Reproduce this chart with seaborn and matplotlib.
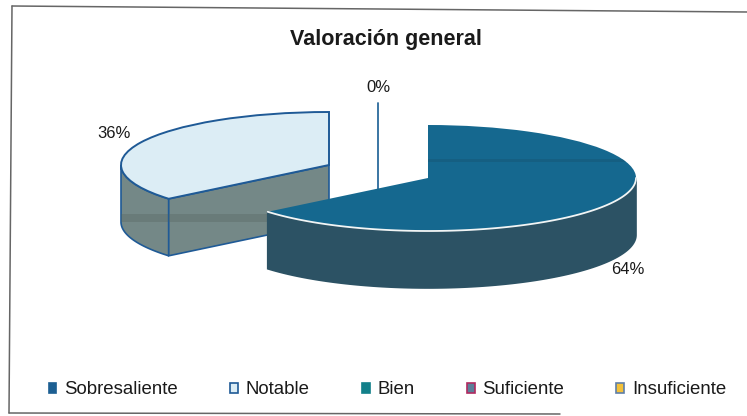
import numpy as np
import matplotlib
matplotlib.use("Agg")
import matplotlib.pyplot as plt
from matplotlib.patches import Patch, Polygon, Rectangle
from matplotlib.lines import Line2D
import seaborn as sns

categories = ["Sobresaliente", "Notable", "Bien", "Suficiente", "Insuficiente"]
values = [64, 36, 0, 0, 0]
pct_labels = ["64%", "36%", "0%"]

top_colors = ["#15688f", "#dcedf5", "#12808a", "#5c7f99", "#f3c13a"]
side_colors = ["#2c5264", "#748887", "#0d5a60", "#40586b", "#a8862a"]
edge_colors = ["#2c5264", "#1f5a96", "#1f5a96", "#b02a60", "#5f7fa8"]
legend_faces = ["#1c5f92", "#dcedf5", "#12808a", "#5c7f99", "#f3c13a"]
legend_edges = ["#1c5f92", "#1f5a96", "#12808a", "#b02a60", "#5f7fa8"]

sns.set_theme(style="white")
plt.rcParams["font.family"] = ["Liberation Sans", "DejaVu Sans"]

W, H = 747, 416
CX, CY, RX, RY = 428, 178, 208, 53
DEPTH = 57 / RY

fig = plt.figure(figsize=(W / 100, H / 100), dpi=100, facecolor="white")
ax = fig.add_axes([0, 0, 1, 1])
wedges, _ = ax.pie(values, startangle=90, counterclock=False, radius=1,
                   colors=top_colors, normalize=True)
ax.set_aspect("auto")
ax.set_xlim((0 - CX) / RX, (W - CX) / RX)
ax.set_ylim((CY - H) / RY, CY / RY)
ax.axis("off")

offsets_px = [(0, 0), (-99, 13), (-50, 22)]


def arc(cx, cy, a, b, n=120):
    t = np.radians(np.linspace(a, b, n))
    return cx + np.cos(t), cy + np.sin(t)


def draw_slice(i, z):
    w = wedges[i]
    cx = offsets_px[i][0] / RX
    cy = offsets_px[i][1] / RY
    w.set_center((cx, cy))
    w.set_zorder(z + 0.5)
    a, b = w.theta1, w.theta2
    side = side_colors[i]
    edge = edge_colors[i]
    walls = []
    for base in (-360, 0):
        l = max(a, 180 + base)
        h = min(b, 360 + base)
        if h > l:
            x, y = arc(cx, cy, l, h)
            poly = np.c_[np.r_[x, x[::-1]], np.r_[y, y[::-1] - DEPTH]]
            walls.append(ax.add_patch(Polygon(poly, closed=True, facecolor=side,
                                              edgecolor=edge, lw=1.2, zorder=z)))
    return cx, cy, a, b, side, edge, walls


def scan_band(clip, y0, y1, color, alpha, z):
    r = Rectangle((-3, (CY - y1) / RY), 6, (y1 - y0) / RY, facecolor=color, alpha=alpha,
                  edgecolor="none", zorder=z)
    ax.add_patch(r)
    r.set_clip_path(clip)


# ---- zero slice (Bien): only a line
zx = offsets_px[2][0] / RX
zy = offsets_px[2][1] / RY
ax.plot([zx, zx], [zy + 1, zy - DEPTH], color="#2b6a9c", lw=1.3, zorder=1)

# ---- Notable
cx, cy, a, b, side, edge, walls = draw_slice(1, 2)
theta = a if np.sin(np.radians(a)) < 0 and np.cos(np.radians(a)) < 0 else b
tx, ty = cx + np.cos(np.radians(theta)), cy + np.sin(np.radians(theta))
face = Polygon([(cx, cy), (tx, ty), (tx, ty - DEPTH), (cx, cy - DEPTH)], closed=True,
               facecolor=side, edgecolor=edge, lw=1.2, zorder=2.2)
ax.add_patch(face)
wedges[1].set_edgecolor(edge)
wedges[1].set_linewidth(1.4)
scan_band(face, 214, 222, "#55655f", 0.35, 2.3)
for wall in walls:
    scan_band(wall, 214, 222, "#55655f", 0.35, 2.1)

# ---- Sobresaliente
cx, cy, a, b, side, edge, walls = draw_slice(0, 3)
wedges[0].set_edgecolor("none")
ax.plot(*arc(cx, cy, a, 0 if a < 0 else a), color="#f2f5f5", lw=1.3, zorder=4)
scan_band(wedges[0], 158.5, 161.5, "#16506b", 0.35, 3.7)


def px_text(x, y, s, **kw):
    fig.text(x / W, 1 - y / H, s, ha="center", va="center", color="#1a1a1a", **kw)


px_text(386, 39, "Valoración general", fontsize=15.5, fontweight="bold")
px_text(378, 87, pct_labels[2], fontsize=12)
px_text(114, 133, pct_labels[1], fontsize=12)
px_text(628, 269, pct_labels[0], fontsize=12)

handles = [Patch(facecolor=f, edgecolor=e, lw=1.2) for f, e in zip(legend_faces, legend_edges)]
fig.legend(handles, categories, ncol=5, loc="center", bbox_to_anchor=(387.5 / W, 1 - 390 / H),
           frameon=False, fontsize=13.4, handlelength=0.42, handleheight=0.4, handletextpad=0.42,
           columnspacing=2.8, labelcolor="#1a1a1a", borderpad=0, borderaxespad=0)

# chart frame: the scan is slightly skewed; right side and end of the bottom are lost
frame = [([12, 9], [6, 413]), ([12, 747], [6, 12]), ([9, 560], [413, 414])]
for xs, ys in frame:
    fig.add_artist(Line2D([x / W for x in xs], [1 - y / H for y in ys], transform=fig.transFigure,
                          color="#666666", lw=1.1))

fig.savefig("out.png", dpi=100)
